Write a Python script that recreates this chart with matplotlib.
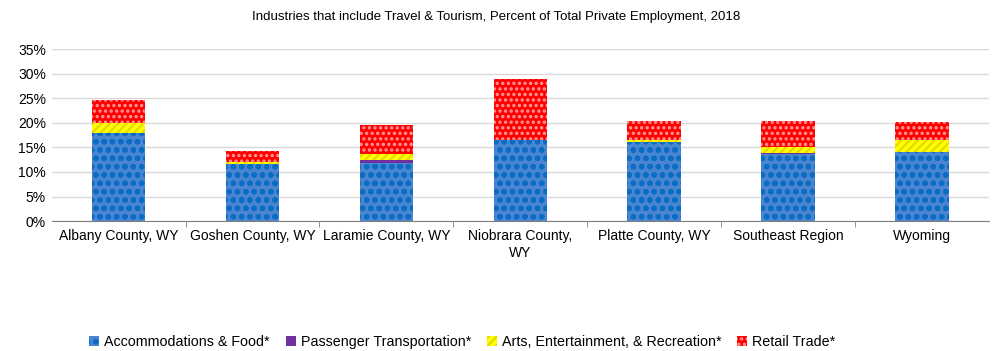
import matplotlib
matplotlib.use('Agg')
import matplotlib.pyplot as plt
import numpy as np
from matplotlib.ticker import FuncFormatter, FixedLocator

plt.rcParams['font.family'] = ['Liberation Sans', 'DejaVu Sans']
plt.rcParams['hatch.linewidth'] = 1.6

regions = ['Albany County, WY', 'Goshen County, WY', 'Laramie County, WY',
           'Niobrara County,\nWY', 'Platte County, WY', 'Southeast Region', 'Wyoming']
accom = [18.0, 11.7, 11.9, 16.5, 16.1, 13.6, 14.0]
transport = [0.0, 0.0, 0.5, 0.0, 0.0, 0.2, 0.1]
arts = [2.0, 0.3, 1.3, 0.0, 0.4, 1.2, 2.4]
retail = [4.6, 2.2, 5.8, 12.5, 3.85, 5.35, 3.65]

series = [
    ('Accommodations & Food*', accom, '#4A86D0', '#0A6CC4', 'oo'),
    ('Passenger Transportation*', transport, '#7030A0', '#7030A0', None),
    ('Arts, Entertainment, & Recreation*', arts, '#FFFF00', '#E6D800', '////'),
    ('Retail Trade*', retail, '#FF0000', '#FF9A9A', '...'),
]

fig = plt.figure(figsize=(9.92, 3.51), dpi=100)
ax = fig.add_axes([0.052, 0.370, 0.945, 0.490])

x = np.arange(len(regions))
bottom = np.zeros(len(regions))
for name, vals, face, hcol, hatch in series:
    ax.bar(x, vals, 0.4, bottom=bottom, color=face, edgecolor=hcol,
           hatch=hatch, linewidth=0, label=name)
    bottom += np.array(vals)

ax.set_xlim(-0.5, len(regions) - 0.5)
ax.set_ylim(0, 35)
ax.set_yticks(np.arange(0, 36, 5))
ax.yaxis.set_major_formatter(FuncFormatter(lambda v, p: f'{int(v)}%'))
ax.grid(axis='y', color='#D9D9D9', linewidth=1)
ax.set_axisbelow(True)
for s in ['top', 'right', 'left']:
    ax.spines[s].set_visible(False)
ax.spines['bottom'].set_color('#808080')
ax.tick_params(axis='y', length=0, labelsize=10, pad=4)
ax.set_xticks(x)
ax.set_xticklabels(regions, fontsize=10)
ax.tick_params(axis='x', which='major', length=0, pad=6)
ax.xaxis.set_minor_locator(FixedLocator(np.arange(0.5, len(regions) - 1, 1)))
ax.tick_params(axis='x', which='minor', length=4, color='#808080')

fig.text(0.5, 0.952, 'Industries that include Travel & Tourism, Percent of Total Private Employment, 2018',
         ha='center', va='center', fontsize=9.5)

fig.legend(loc='center', bbox_to_anchor=(0.466, 0.027), ncol=4, frameon=False,
           fontsize=10.3, handlelength=0.7, handleheight=0.7, handletextpad=0.35,
           columnspacing=1.1)

fig.savefig('out.png', dpi=100)
